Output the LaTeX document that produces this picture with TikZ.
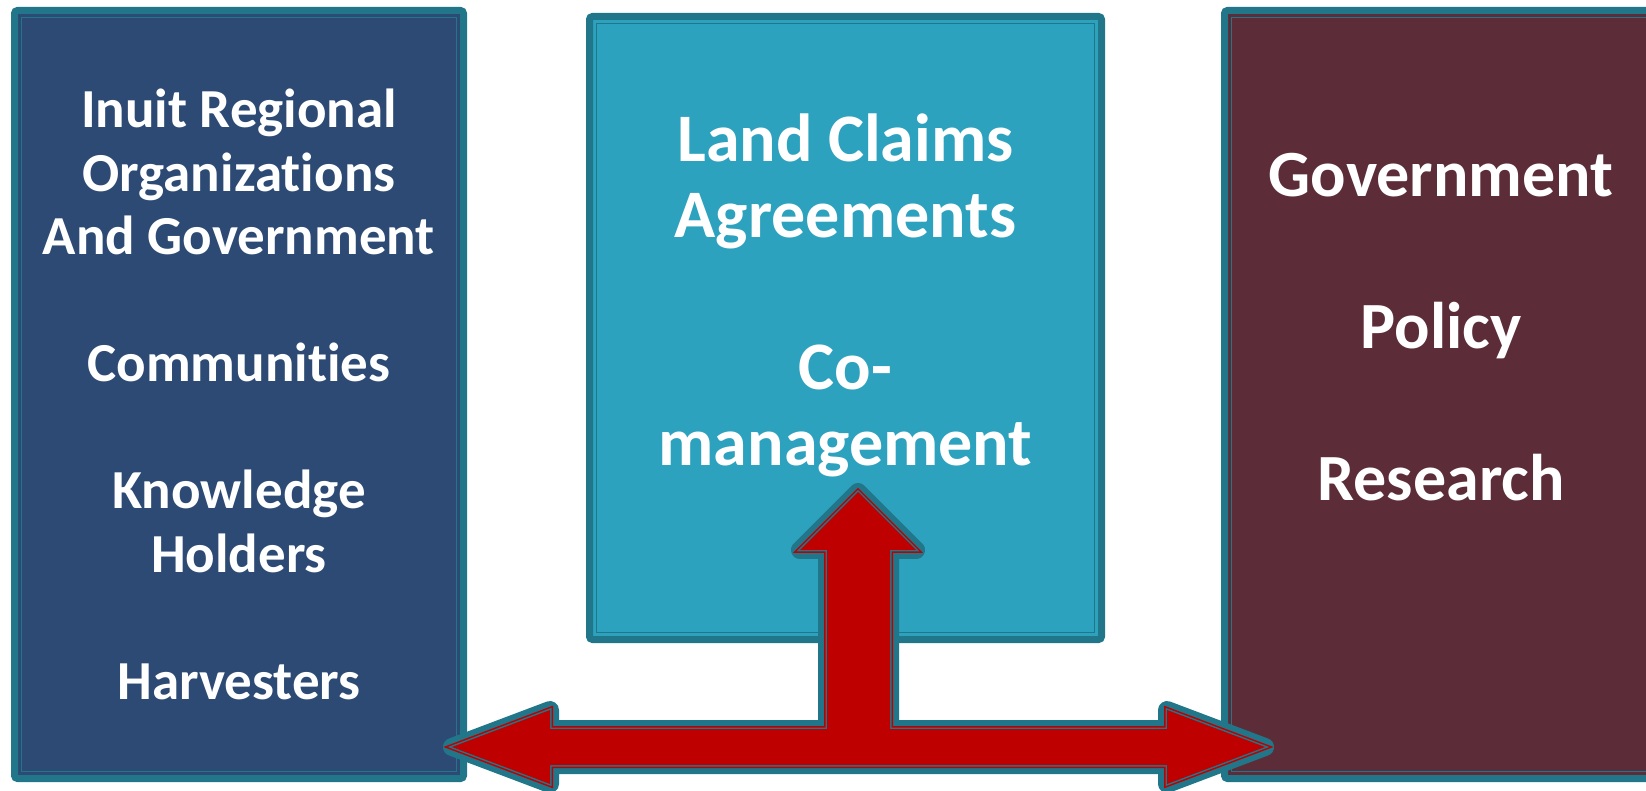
\documentclass[tikz,border=0pt]{standalone}
\usepackage{fontspec}
\setmainfont{Carlito}[Ligatures=NoCommon]
\usetikzlibrary{positioning}
\definecolor{inuitblue}{RGB}{44,74,116}
\definecolor{claimcyan}{RGB}{45,162,190}
\definecolor{govmaroon}{RGB}{92,45,56}
\definecolor{edgeteal}{RGB}{33,118,137}
\definecolor{linkred}{RGB}{190,0,0}

\begin{document}
\begin{tikzpicture}[x=0.5pt,y=-0.5pt,
  panel/.style={draw=edgeteal, line width=3.5pt, rounded corners=1.5pt, inner sep=0pt, outer sep=0pt},
  panelline/.style={draw=edgeteal, line width=0.7pt},
  paneltext/.style={text=white, align=center, inner sep=0pt}]
\useasboundingbox (0,0) rectangle (1646,791);
\clip (0,0) rectangle (1646,791);
% Left panel: Inuit side
\node[panel, fill=inuitblue, minimum width=224.5pt, minimum height=384pt] (inuit) at (239,394.5) {};
\draw[panelline] ([shift={(7,7)}]inuit.north west) rectangle ([shift={(-7,-7)}]inuit.south east);
\node[paneltext, font=\fontsize{27.5}{31.75}\selectfont\bfseries] (inuittext) at (inuit.center)
  {Inuit Regional\\Organizations\\And Government\\[\baselineskip]Communities\\[\baselineskip]Knowledge\\Holders\\[\baselineskip]Harvesters};
% Middle panel: agreements
\node[panel, fill=claimcyan, minimum width=256pt, minimum height=311.5pt] (claims) at (845.5,328) {};
\draw[panelline] ([shift={(7,7)}]claims.north west) rectangle ([shift={(-7,-7)}]claims.south east);
\node[paneltext, font=\fontsize{34}{38}\selectfont\bfseries] (claimstext) at ([yshift=16.5pt]claims.center)
  {Land Claims\\Agreements\\[\baselineskip]Co-\\management};
% Right panel: government
\node[panel, fill=govmaroon, minimum width=216.5pt, minimum height=384pt] (gov) at (1441,394.5) {};
\draw[panelline] ([shift={(7,7)}]gov.north west) rectangle ([shift={(-7,-7)}]gov.south east);
\node[paneltext, font=\fontsize{33}{38}\selectfont\bfseries] (govtext) at ([yshift=33.5pt]gov.center)
  {Government\\[\baselineskip]Policy\\[\baselineskip]Research};
% Three-way block arrow
\path[preaction={draw=edgeteal, line width=9pt, line join=round},
      preaction={draw=linkred, line width=3pt},
      preaction={draw=edgeteal, line width=1.5pt},
      fill=linkred]
  (452,747) -- (550,710) -- (550,729) -- (827,729) -- (827,550) -- (800,550)
  -- (858,492) -- (916,550) -- (890,550) -- (890,729) -- (1167,729) -- (1167,710)
  -- (1265,747) -- (1167,784) -- (1167,765) -- (550,765) -- (550,784) -- cycle;
\end{tikzpicture}
\end{document}
